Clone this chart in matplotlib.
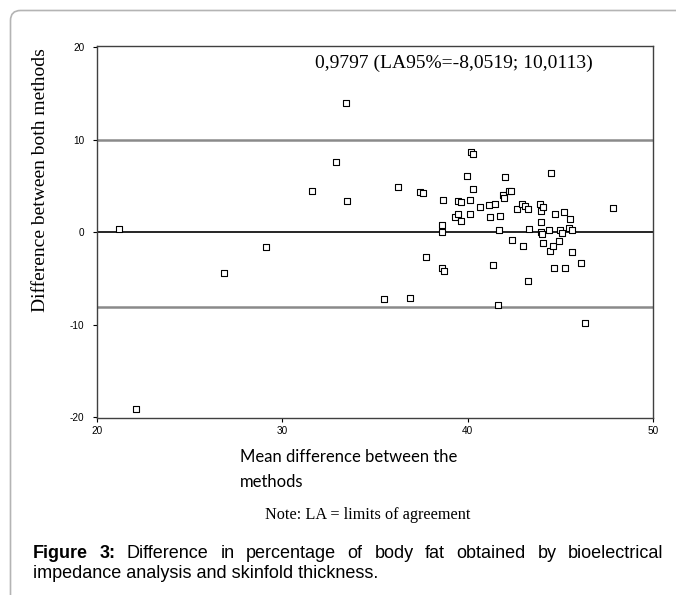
import matplotlib
matplotlib.use("Agg")
import matplotlib.pyplot as plt
from matplotlib.patches import PathPatch
from matplotlib.path import Path

plt.rcParams["axes.unicode_minus"] = False

# mean of both methods (x) and difference between them (y)
mean_x = [21.20, 22.13, 26.84, 29.14, 31.58, 32.88, 33.42, 33.47, 35.49, 36.23,
          36.91, 37.41, 37.59, 37.77, 38.62, 38.62, 38.67, 38.62, 38.73, 39.32,
          39.46, 39.50, 39.63, 39.63, 39.97, 40.17, 40.31, 40.13, 40.13, 40.31,
          40.69, 41.15, 41.21, 41.39, 41.50, 41.62, 41.68, 41.73, 41.89, 41.96,
          42.02, 42.23, 42.34, 42.41, 42.68, 42.95, 42.97, 43.10, 43.26, 43.26,
          43.31, 43.92, 43.94, 44.05, 43.94, 43.94, 44.01, 44.05, 44.39, 44.45,
          44.50, 44.61, 44.68, 44.72, 44.93, 44.99, 45.08, 45.19, 45.24, 45.47,
          45.53, 45.61, 45.61, 46.10, 46.32, 47.84]
diff_y = [0.35, -19.15, -4.38, -1.58, 4.44, 7.58, 13.95, 3.35, -7.25, 4.94,
          -7.08, 4.33, 4.22, -2.67, 0.76, 0.00, 3.46, -3.83, -4.22, 1.62,
          1.98, 3.35, 3.25, 1.19, 6.09, 8.72, 8.44, 3.46, 1.98, 4.65,
          2.77, 2.95, 1.62, -3.50, 3.06, -7.90, 0.28, 1.76, 4.04, 3.74,
          6.02, 4.50, 4.44, -0.83, 2.55, 3.06, -1.48, 2.85, 2.55, -5.31,
          0.39, 3.06, 2.27, 2.74, 1.11, 0.00, -0.22, -1.12, 0.22, -1.99,
          6.45, -1.48, -3.83, 1.98, -0.91, 0.22, -0.08, 2.16, -3.83, 0.50,
          1.44, 0.28, -2.17, -3.29, -9.85, 2.59]

bias = 0.9797
lower_la = -8.0519
upper_la = 10.0113

W, H = 676, 595
fig = plt.figure(figsize=(W / 100, H / 100), dpi=100)

# light grey page frame: left and top edges with a rounded corner
fx, fy, rr = 10.5 / W, 1 - 10.5 / H, 10.0
frame_path = Path([(fx, -0.05), (fx, fy - rr / H), (fx, fy), (fx + rr / W, fy), (1.05, fy)],
                  [Path.MOVETO, Path.LINETO, Path.CURVE3, Path.CURVE3, Path.LINETO])
fig.patches.append(PathPatch(frame_path, transform=fig.transFigure, fill=False,
                             edgecolor="#b4b4b4", linewidth=1.2))

ax = fig.add_axes([97 / W, 1 - 418 / H, 556 / W, 372 / H])
ax.scatter(mean_x, diff_y, marker="s", s=14, facecolors="white",
           edgecolors="black", linewidths=0.8, zorder=3)
ax.axhline(upper_la, color="#8a8a8a", lw=1.8, zorder=2)
ax.axhline(lower_la, color="#8a8a8a", lw=1.8, zorder=2)
ax.axhline(0, color="black", lw=1.2, zorder=2)

ax.set_xlim(20, 50)
ax.set_ylim(-20.1, 20.15)
ax.set_xticks([20, 30, 40, 50])
ax.set_yticks([-20, -10, 0, 10, 20])
ax.tick_params(labelsize=7.2, length=3, width=0.8, direction="out", pad=2.5)
ax.tick_params(axis="y", pad=6)
for lab in ax.get_xticklabels() + ax.get_yticklabels():
    lab.set_family("Liberation Sans")
for sp in ax.spines.values():
    sp.set_color("#404040")
    sp.set_linewidth(1.0)

ax.text(0.642, 0.954,
        f"{bias:.4f} (LA95%={lower_la:.4f}; {upper_la:.4f})".replace(".", ","),
        transform=ax.transAxes, ha="center", va="center",
        family="Liberation Serif", fontsize=14)

fig.text(41 / W, 1 - 180 / H, "Difference between both methods",
         rotation=90, ha="center", va="center",
         family="Liberation Serif", fontsize=14)

fig.text(240 / W, 1 - 457 / H, "Mean difference between the",
         ha="left", va="center", family="Lato", fontsize=12)
fig.text(240 / W, 1 - 482 / H, "methods",
         ha="left", va="center", family="Lato", fontsize=12)

fig.text(368 / W, 1 - 515 / H, "Note: LA = limits of agreement",
         ha="center", va="center", family="Liberation Serif", fontsize=11.7)

# caption, first line justified between left and right margins
cap_words = ["Figure", "3:", "Difference", "in", "percentage", "of", "body",
             "fat", "obtained", "by", "bioelectrical"]
cap_bold = [True, True] + [False] * 9
x0, x1 = 32.7, 663.5
texts = [fig.text(0, 1 - 553 / H, w, ha="left", va="center",
                  family="Liberation Sans", fontsize=13,
                  fontweight="bold" if b else "normal")
         for w, b in zip(cap_words, cap_bold)]
fig.canvas.draw()
r = fig.canvas.get_renderer()
widths = [t.get_window_extent(r).width for t in texts]
gap = (x1 - x0 - sum(widths)) / (len(texts) - 1)
x = x0
for t, w in zip(texts, widths):
    t.set_x(x / W)
    x += w + gap

fig.text(x0 / W, 1 - 573 / H, "impedance analysis and skinfold thickness.",
         ha="left", va="center", family="Liberation Sans", fontsize=13)

fig.savefig("out.png", dpi=100)
